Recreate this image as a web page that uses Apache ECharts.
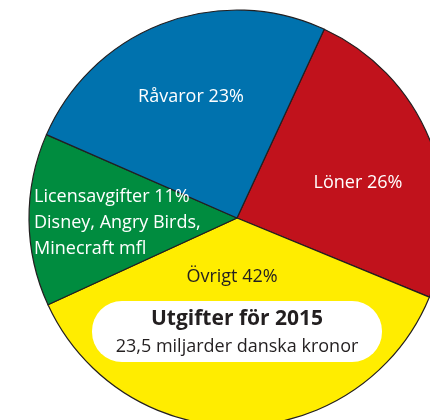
<!DOCTYPE html>
<html>
<head>
<meta charset="utf-8">
<script src="https://cdn.jsdelivr.net/npm/echarts@6/dist/echarts.min.js"></script>
<style>
html, body {margin: 0; padding: 0; background: #fff;}
#figure0 {width: 430px; height: 420px;}
</style>
</head>
<body>
<div id="figure0"></div>
<script>
// slices in drawing order, clockwise from the Råvaror/Löner edge
var names = ['Löner', 'Övrigt', 'Licensavgifter', 'Råvaror'];
var labelPct = [26, 42, 11, 23];
// share of the circle as drawn in the picture
var shares = [24.3, 36.9, 13.4, 25.3];
var notes = ['', '', 'Disney, Angry Birds,\nMinecraft mfl', ''];
var colors = ['#c1121c', '#ffed00', '#008c3f', '#0072ae'];
var textColors = ['#fff', '#231f20', '#fff', '#fff'];
var title = 'Utgifter för 2015';
var subtitle = '23,5 miljarder danska kronor';

var labelPos = [
    {x: 358, y: 183, align: 'center'},
    {x: 232, y: 277, align: 'center'},
    {x: 34, y: 223, align: 'left'},
    {x: 191, y: 97, align: 'center'}
];

var data = names.map(function (n, i) {
    return {
        name: n,
        value: shares[i],
        itemStyle: {color: colors[i]},
        label: {color: textColors[i]}
    };
});

var figure0 = echarts.init(document.getElementById('figure0'));
var font = '"Open Sans", sans-serif';
var option = {
    animation: false,
    graphic: [{
        type: 'rect',
        z: 100,
        shape: {x: 92, y: 301, width: 290, height: 61, r: 30},
        style: {fill: '#fff'}
    }, {
        type: 'text',
        z: 101,
        x: 237, y: 319,
        style: {text: title, font: 'bold 21px ' + font, fill: '#231f20', align: 'center', verticalAlign: 'middle'}
    }, {
        type: 'text',
        z: 101,
        x: 237, y: 347,
        style: {text: subtitle, font: '18px ' + font, fill: '#231f20', align: 'center', verticalAlign: 'middle'}
    }],
    series: [{
        type: 'pie',
        center: [237, 218],
        radius: 208,
        startAngle: 65.2,
        clockwise: true,
        data: data,
        itemStyle: {borderColor: '#231f20', borderWidth: 1.2},
        emphasis: {disabled: true},
        label: {
            show: true,
            position: 'inside',
            fontFamily: font,
            fontSize: 18,
            lineHeight: 26,
            formatter: function (p) {
                var i = p.dataIndex;
                var s = names[i] + ' ' + labelPct[i] + '%';
                if (notes[i]) { s += '\n' + notes[i]; }
                return s;
            }
        },
        labelLayout: function (p) {
            var lp = labelPos[p.dataIndex];
            return {x: lp.x, y: lp.y, align: lp.align, verticalAlign: 'middle'};
        }
    }]
};
figure0.setOption(option);
</script>
</body>
</html>
